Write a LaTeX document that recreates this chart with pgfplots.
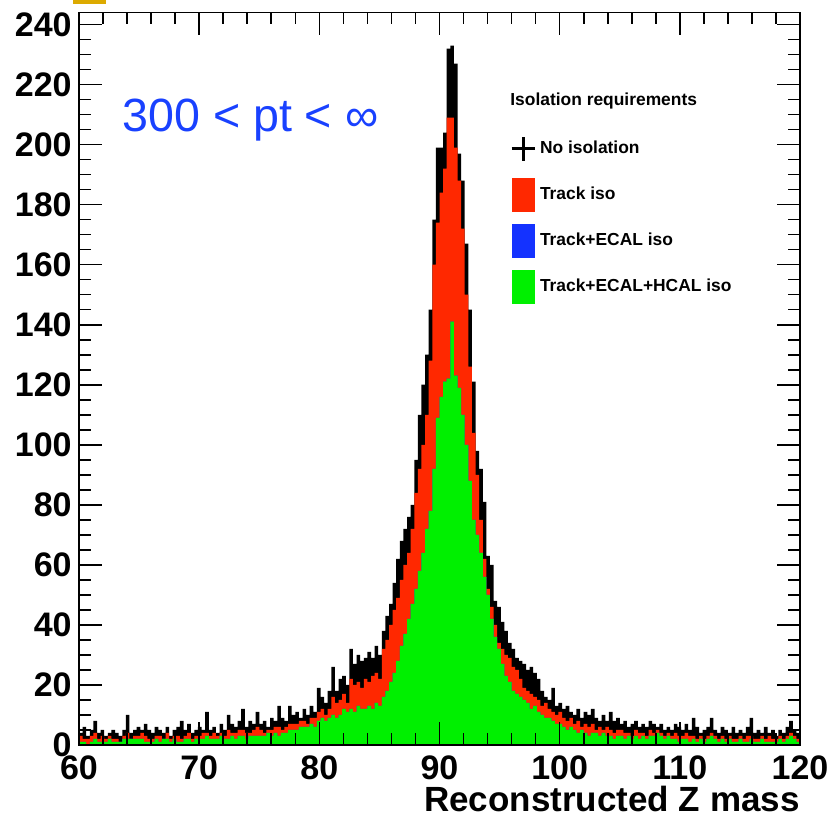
\documentclass[border=0pt]{standalone}
\usepackage{fontspec}
\setmainfont{Liberation Sans}
\usepackage{pgfplots}
\usepackage{pgfplotstable}
\pgfplotsset{compat=1.18}
\definecolor{rootred}{RGB}{255,40,0}
\definecolor{rootblue}{RGB}{20,50,255}
\definecolor{rootgreen}{RGB}{0,240,0}
\definecolor{txtblue}{RGB}{25,65,255}
\definecolor{gold}{RGB}{220,170,0}

\pgfplotstableread{
x b r g
60.0 4 3 1
60.3 6 2 1
60.6 3 2 0
60.9 5 3 1
61.2 8 4 2
61.5 4 2 1
61.8 5 3 1
62.1 3 2 1
62.4 4 3 2
62.7 5 2 1
63.0 4 2 1
63.3 3 1 1
63.6 5 3 2
63.9 10 4 2
64.2 4 2 2
64.5 5 3 2
64.8 6 3 2
65.1 5 4 2
65.4 7 3 1
65.7 5 2 1
66.0 4 2 1
66.3 6 3 2
66.6 5 3 1
66.9 4 2 2
67.2 6 4 2
67.5 3 2 1
67.8 5 3 2
68.1 6 3 1
68.4 8 2 1
68.7 5 3 2
69.0 7 4 2
69.3 4 2 1
69.6 5 3 2
69.9 6 3 2
70.2 5 4 2
70.5 11 4 3
70.8 5 3 2
71.1 6 4 2
71.4 4 3 2
71.7 7 4 3
72.0 5 3 2
72.3 10 5 2
72.6 7 4 3
72.9 6 4 2
73.2 8 5 3
73.5 12 5 3
73.8 6 4 2
74.1 8 4 3
74.4 7 5 3
74.7 11 6 3
75.0 7 5 3
75.3 8 4 3
75.6 6 5 4
75.9 9 5 3
76.2 8 6 4
76.5 13 6 3
76.8 9 5 4
77.1 8 6 4
77.4 13 7 5
77.7 10 7 5
78.0 11 7 5
78.3 9 8 6
78.6 12 8 6
78.9 10 7 6
79.2 13 9 7
79.5 11 9 6
79.8 19 11 8
80.1 16 12 9
80.4 14 10 8
80.7 18 12 9
81.0 26 16 10
81.3 18 14 9
81.6 22 15 10
81.9 23 17 12
82.2 20 14 11
82.5 32 22 12
82.8 27 20 11
83.1 30 21 13
83.4 28 19 12
83.7 29 22 12
84.0 31 21 13
84.3 29 23 12
84.6 33 24 14
84.9 30 22 13
85.2 38 32 16
85.5 43 35 18
85.8 47 40 21
86.1 54 45 24
86.4 62 49 28
86.7 68 55 33
87.0 72 60 37
87.3 76 64 42
87.6 80 72 47
87.9 95 84 52
88.2 110 92 58
88.5 120 100 64
88.8 130 110 72
89.1 145 128 78
89.4 175 160 92
89.7 199 174 109
90.0 199 184 116
90.3 204 192 121
90.6 232 209 122
90.9 233 209 141
91.2 227 199 123
91.5 197 188 119
91.8 188 172 110
92.1 167 150 100
92.4 145 126 88
92.7 121 104 75
93.0 98 90 70
93.3 92 75 64
93.6 81 62 56
93.9 63 52 50
94.2 60 46 42
94.5 48 40 36
94.8 46 34 32
95.1 41 32 27
95.4 38 30 23
95.7 34 29 21
96.0 32 26 18
96.3 29 25 17
96.6 28 22 16
96.9 27 19 15
97.2 25 18 14
97.5 26 17 12
97.8 24 16 13
98.1 22 15 11
98.4 18 13 10
98.7 16 14 9
99.0 15 12 9
99.3 19 11 8
99.6 13 10 7
99.9 14 11 7
100.2 12 9 6
100.5 13 8 5
100.8 11 9 6
101.1 10 7 5
101.4 12 8 4
101.7 9 6 5
102.0 11 7 4
102.3 10 6 3
102.6 12 7 4
102.9 9 5 4
103.2 8 6 3
103.5 10 5 4
103.8 8 6 3
104.1 11 5 3
104.4 8 4 2
104.7 9 5 3
105.0 7 5 3
105.3 8 4 2
105.6 6 4 3
105.9 7 3 2
106.2 8 5 3
106.5 6 4 2
106.8 7 4 3
107.1 6 3 2
107.4 8 5 3
107.7 7 4 3
108.0 6 5 4
108.3 7 4 3
108.6 5 3 2
108.9 6 4 3
109.2 5 3 2
109.5 7 4 2
109.8 6 3 1
110.1 5 3 2
110.4 7 4 2
110.7 5 3 1
111.0 9 3 2
111.3 6 2 1
111.6 4 3 2
111.9 5 2 1
112.2 6 3 2
112.5 9 4 3
112.8 5 3 2
113.1 4 2 1
113.4 6 3 2
113.7 5 2 1
114.0 4 3 2
114.3 6 2 1
114.6 4 2 1
114.9 5 3 2
115.2 4 2 1
115.5 6 3 1
115.8 9 3 2
116.1 4 2 1
116.4 5 2 1
116.7 4 3 2
117.0 6 2 1
117.3 4 3 1
117.6 5 2 1
117.9 3 2 1
118.2 5 3 2
118.5 4 2 1
118.8 6 3 2
119.1 8 4 3
119.4 5 3 2
119.7 4 2 1
120.0 4 2 1
}\zdata

\begin{document}
\begin{tikzpicture}
\path[use as bounding box] (-39.5pt,-37pt) rectangle (375.5pt,372.5pt);
\fill[gold] (-3pt,370.5pt) rectangle (13.5pt,372.5pt);
\begin{axis}[
  at={(0pt,0pt)}, anchor=south west,
  scale only axis,
  width=360.5pt, height=366.25pt,
  xmin=60, xmax=120, ymin=0, ymax=244,
  axis on top,
  xtick={60,70,...,120}, ytick={0,20,...,240},
  minor x tick num=4, minor y tick num=3,
  tick align=inside,
  xtick pos=both, ytick pos=both,
  xticklabel pos=lower, yticklabel pos=left,
  major tick length=11.5pt, minor tick length=6pt,
  axis line style={line width=0.9pt},
  every tick/.style={black, line width=0.8pt},
  /pgf/number format/assume math mode=true,
  tick label style={font=\fontsize{17}{20}\selectfont\bfseries},
  yticklabel style={anchor=east, inner sep=0pt, xshift=-3.5pt},
  xticklabel style={anchor=north, inner sep=0pt, yshift=-5pt},
  xlabel={Reconstructed Z mass},
  x label style={at={(axis description cs:1,0)}, anchor=base east, inner sep=0pt, yshift=-33.5pt, font=\fontsize{17.5}{20}\selectfont\bfseries},
  legend style={draw=none, fill=none, at={(0.5978,0.8373)}, anchor=north west,
    inner sep=0pt, outer sep=0pt, row sep=6pt, column sep=2pt,
    nodes={inner sep=0pt}, font=\fontsize{8.7}{10}\selectfont\bfseries},
  legend cell align=left,
]
\addplot[const plot, fill=black, draw=none, forget plot] table[x=x, y=b] {\zdata} \closedcycle;
\addplot[const plot, fill=rootred, draw=none, forget plot] table[x=x, y=r] {\zdata} \closedcycle;
\addplot[const plot, fill=rootblue, draw=none, forget plot] table[x=x, y=g] {\zdata} \closedcycle;
\addplot[const plot, fill=rootgreen, draw=none, forget plot] table[x=x, y=g] {\zdata} \closedcycle;

\addlegendimage{legend image code/.code={
  \path[draw=none, fill=none] (0pt,-8.5pt) (11.5pt,8.5pt);
  \draw[black, line width=1.5pt] (5.75pt,-6pt) -- (5.75pt,6pt) (0pt,0pt) -- (11.5pt,0pt);}}
\addlegendentry{No isolation}
\addlegendimage{legend image code/.code={\fill[rootred, draw=none] (0pt,-8.5pt) rectangle (11.5pt,8.5pt);}}
\addlegendentry{Track iso}
\addlegendimage{legend image code/.code={\fill[rootblue, draw=none] (0pt,-8.5pt) rectangle (11.5pt,8.5pt);}}
\addlegendentry{Track+ECAL iso}
\addlegendimage{legend image code/.code={\fill[rootgreen, draw=none] (0pt,-8.5pt) rectangle (11.5pt,8.5pt);}}
\addlegendentry{Track+ECAL+HCAL iso}

\node[anchor=base west, inner sep=0pt, font=\fontsize{8.7}{10}\selectfont\bfseries] at (rel axis cs:0.5978,0.8737) {Isolation requirements};
\node[anchor=base west, inner sep=0pt, text=txtblue, font=\fontsize{23.3}{26}\selectfont] at (rel axis cs:0.0596,0.8373) {300 < pt < ∞};
\end{axis}
\end{tikzpicture}
\end{document}
